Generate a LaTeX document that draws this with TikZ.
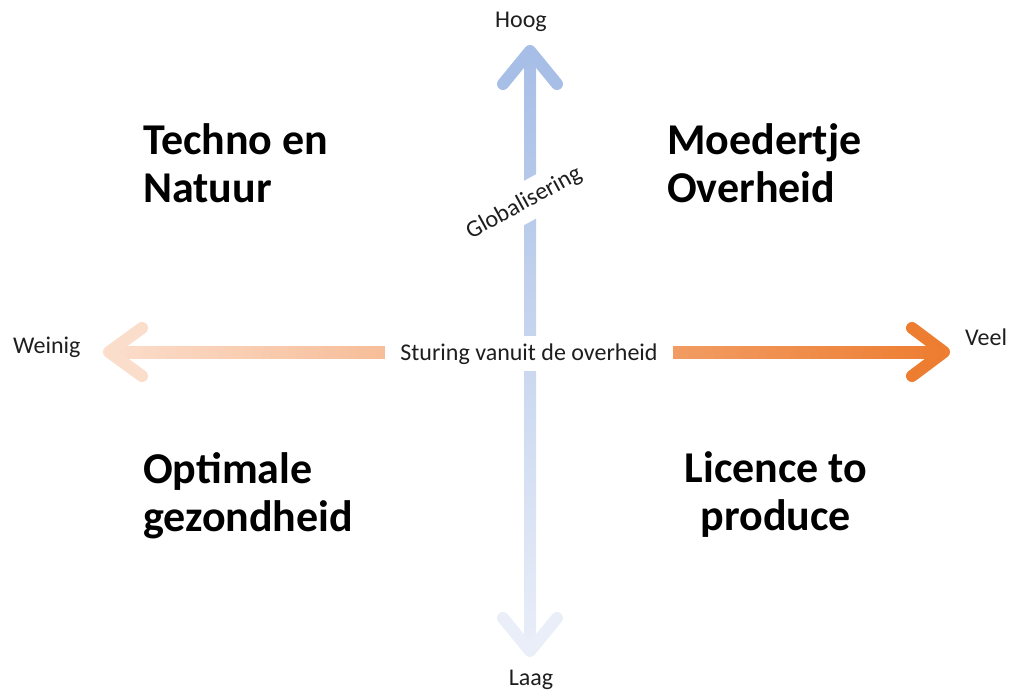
\documentclass[tikz,border=0pt]{standalone}
\usepackage{fontspec}
\setmainfont{Carlito}
\definecolor{vtop}{RGB}{167,190,230}
\definecolor{vbot}{RGB}{233,238,248}
\definecolor{hleft}{RGB}{251,221,203}
\definecolor{hright}{RGB}{237,125,49}
\definecolor{txt}{RGB}{30,30,30}
\begin{document}
\begin{tikzpicture}[x=1pt,y=-1pt,
  head/.style={line width=12pt,line cap=round,line join=round},
  small/.style={font=\fontsize{24}{29}\selectfont,text=txt,inner sep=0pt},
  big/.style={font=\fontsize{44}{48}\selectfont\bfseries,text=black,inner sep=0pt},
  gaplabel/.style={small,fill=white}]
\useasboundingbox (0,0) rectangle (1011,692);
% vertical axis
\coordinate (vT) at (530,51);
\coordinate (vB) at (530,651);
\fill[top color=vtop,bottom color=vbot] (524,51) rectangle (536,651);
\draw[head,vtop] (503,84) -- (vT) -- (557,84);
\draw[head,vbot] (503,618) -- (vB) -- (557,618);
% horizontal axis
\coordinate (hL) at (109,352);
\coordinate (hR) at (944,352);
\fill[left color=hleft,right color=hright] (109,346) rectangle (944,358);
\draw[head,hleft] (142,328) -- (hL) -- (142,376);
\draw[head,hright] (912,328) -- (hR) -- (912,376);
% axis labels
\node[gaplabel,inner xsep=15pt,inner ysep=7pt,anchor=base] (stur) at (529,360) {Sturing vanuit de overheid};
\node[gaplabel,inner sep=9pt,rotate=28.6] (glob) at (524,203) {Globalisering};
\node[small,anchor=base] (hoog) at (521,28) {Hoog};
\node[small,anchor=base] (laag) at (531,685) {Laag};
\node[small,anchor=base west] (weinig) at (13,353) {Weinig};
\node[small,anchor=base west] (veel) at (965,345) {Veel};
% quadrant titles (base anchor = baseline of last line)
\node[big,align=left,anchor=base west] (q1) at (143,203) {Techno en\\Natuur};
\node[big,align=left,anchor=base west] (q2) at (667,203) {Moedertje\\Overheid};
\node[big,align=left,anchor=base west] (q3) at (143,531) {Optimale\\gezondheid};
\node[big,align=center,anchor=base] (q4) at (776,530) {Licence to\\produce};
\end{tikzpicture}
\end{document}
